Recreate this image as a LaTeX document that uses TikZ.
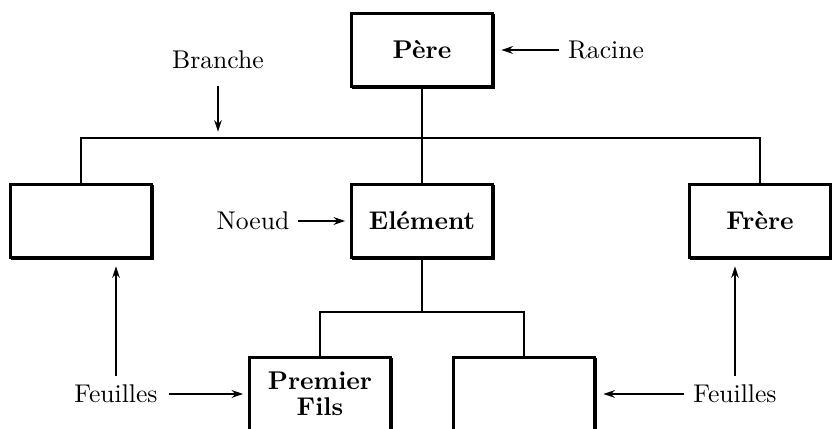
\documentclass[tikz,border=0pt]{standalone}
\usepackage{tikz}
\usetikzlibrary{arrows.meta, positioning, shadows}

\begin{document}
\begin{tikzpicture}[
    x=0.39pt, y=-0.39pt,
    boite/.style={draw, fill=white, line width=0.9pt, minimum width=55pt, minimum height=28.5pt,
        align=center, font=\bfseries, copy shadow={shadow xshift=0.7pt, shadow yshift=-0.7pt}},
    lien/.style={line width=0.8pt},
    fleche/.style={line width=0.7pt, -{Stealth[length=4.5pt, width=3pt]}, shorten >=2pt},
    etiquette/.style={font=\normalsize}
]
\useasboundingbox (0,0) rectangle (832,429);

% Racine
\node[boite] (pere) at (422,50) {P\`ere};
\node[etiquette] (racine) at (606,50) {Racine};
% Niveau 1
\node[boite] (gauche) at (81,221) {};
\node[boite] (element) at (422,221) {El\'ement};
\node[boite] (frere) at (760,221) {Fr\`ere};
% Niveau 2
\node[boite] (fils) at (320,394) {Premier\\[-2pt]Fils};
\node[boite] (vide) at (524,394) {};

% Etiquettes
\node[etiquette] (branche) at (218,60) {Branche};
\node[etiquette] (noeud) at (253,221) {Noeud};
\node[etiquette] (feuillesg) at (116,394) {Feuilles};
\node[etiquette] (feuillesd) at (735,394) {Feuilles};

% Branches
\coordinate (haut) at (0,138);
\coordinate (bas) at (0,312);
\draw[lien] (pere.south) -- (element.north);
\draw[lien] (gauche.north) -- (gauche.north |- haut) -- (frere.north |- haut) -- (frere.north);
\draw[lien] (element.south) -- (element.south |- bas);
\draw[lien] (fils.north) -- (fils.north |- bas) -- (vide.north |- bas) -- (vide.north);

% Fleches
\draw[fleche, shorten >=3pt] (racine.west) -- (pere.east);
\draw[fleche, shorten <=3pt, shorten >=2.5pt] (branche.south) -- (branche.south |- haut);
\draw[fleche] (noeud.east) -- (element.west);
\draw[fleche, shorten <=1pt] (feuillesg.east) -- (fils.west);
\draw[fleche, shorten >=3pt] (feuillesd.west) -- (vide.east);
\draw[fleche, shorten >=3pt] (feuillesg.north) -- (feuillesg.north |- gauche.south);
\draw[fleche, shorten >=3pt] (feuillesd.north) -- (feuillesd.north |- frere.south);
\end{tikzpicture}
\end{document}
